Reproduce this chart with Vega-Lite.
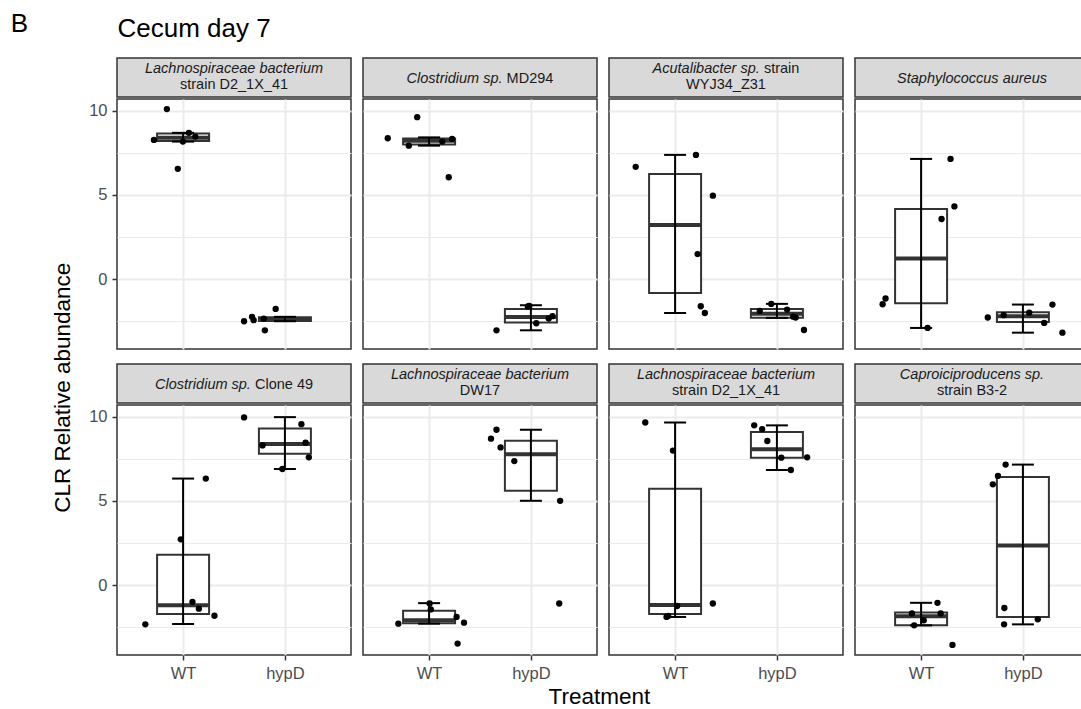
{
"$schema": "https://vega.github.io/schema/vega-lite/v6.json",
"background": "white",
"padding": {"left": 10, "top": 10, "right": 0, "bottom": 0},
"config": {
  "font": "Liberation Sans",
  "view": {"stroke": null},
  "title": {"fontWeight": "normal", "color": "#000000", "font": "Liberation Sans"},
  "axis": {"domain": false, "gridColor": "#ebebeb", "gridWidth": 2, "tickColor": "#333333", "tickSize": 5, "tickWidth": 1.5, "labelColor": "#4d4d4d", "labelFontSize": 16.5, "labelFont": "Liberation Sans", "labelPadding": 5, "minExtent": 0},
  "text": {"font": "Liberation Sans", "fontSize": 14.5, "color": "#1a1a1a"}
},
"datasets": {
  "points": [
    {"panel":1,"x":0.841,"value":10.10},{"panel":1,"x":0.714,"value":8.27},{"panel":1,"x":1.057,"value":8.69},{"panel":1,"x":0.998,"value":8.17},{"panel":1,"x":1.12,"value":8.47},{"panel":1,"x":0.948,"value":6.55},
    {"panel":1,"x":1.599,"value":-2.50},{"panel":1,"x":1.677,"value":-2.24},{"panel":1,"x":1.693,"value":-2.44},{"panel":1,"x":1.793,"value":-2.35},{"panel":1,"x":1.909,"value":-1.77},{"panel":1,"x":1.803,"value":-3.04},
    {"panel":2,"x":0.883,"value":9.62},{"panel":2,"x":0.594,"value":8.37},{"panel":2,"x":0.801,"value":7.93},{"panel":2,"x":1.130,"value":8.17},{"panel":2,"x":1.226,"value":8.33},{"panel":2,"x":1.193,"value":6.05},
    {"panel":2,"x":1.662,"value":-3.04},{"panel":2,"x":1.984,"value":-1.59},{"panel":2,"x":2.053,"value":-2.62},{"panel":2,"x":2.175,"value":-2.34},{"panel":2,"x":2.212,"value":-2.20},{"panel":2,"x":1.97,"value":-1.62},
    {"panel":3,"x":0.613,"value":6.67},{"panel":3,"x":1.205,"value":7.38},{"panel":3,"x":1.371,"value":4.96},{"panel":3,"x":1.221,"value":1.49},{"panel":3,"x":1.252,"value":-1.61},{"panel":3,"x":1.292,"value":-2.01},
    {"panel":3,"x":1.831,"value":-1.89},{"panel":3,"x":1.944,"value":-1.47},{"panel":3,"x":2.100,"value":-1.81},{"panel":3,"x":2.160,"value":-2.23},{"panel":3,"x":2.184,"value":-2.28},{"panel":3,"x":2.266,"value":-3.02},
    {"panel":4,"x":0.651,"value":-1.15},{"panel":4,"x":0.622,"value":-1.49},{"panel":4,"x":1.064,"value":-2.90},{"panel":4,"x":1.201,"value":3.57},{"panel":4,"x":1.327,"value":4.32},{"panel":4,"x":1.289,"value":7.14},
    {"panel":4,"x":1.655,"value":-2.28},{"panel":4,"x":1.811,"value":-2.14},{"panel":4,"x":2.062,"value":-1.99},{"panel":4,"x":2.209,"value":-2.60},{"panel":4,"x":2.290,"value":-1.51},{"panel":4,"x":2.388,"value":-3.18},
    {"panel":5,"x":0.629,"value":-2.33},{"panel":5,"x":1.223,"value":6.33},{"panel":5,"x":0.977,"value":2.72},{"panel":5,"x":1.092,"value":-0.99},{"panel":5,"x":1.155,"value":-1.40},{"panel":5,"x":1.308,"value":-1.82},
    {"panel":5,"x":1.599,"value":9.96},{"panel":5,"x":2.162,"value":9.56},{"panel":5,"x":1.780,"value":8.30},{"panel":5,"x":2.203,"value":8.46},{"panel":5,"x":2.235,"value":7.59},{"panel":5,"x":1.975,"value":6.90},
    {"panel":6,"x":0.698,"value":-2.29},{"panel":6,"x":1.017,"value":-1.44},{"panel":6,"x":1.005,"value":-1.09},{"panel":6,"x":1.270,"value":-1.89},{"panel":6,"x":1.343,"value":-2.23},{"panel":6,"x":1.280,"value":-3.47},
    {"panel":6,"x":1.662,"value":9.23},{"panel":6,"x":1.608,"value":8.70},{"panel":6,"x":1.702,"value":8.18},{"panel":6,"x":1.837,"value":7.37},{"panel":6,"x":2.287,"value":5.01},{"panel":6,"x":2.278,"value":-1.09},
    {"panel":7,"x":0.707,"value":9.66},{"panel":7,"x":0.979,"value":7.99},{"panel":7,"x":1.020,"value":-1.24},{"panel":7,"x":0.916,"value":-1.89},{"panel":7,"x":0.932,"value":-1.83},{"panel":7,"x":1.371,"value":-1.09},
    {"panel":7,"x":1.777,"value":9.49},{"panel":7,"x":1.855,"value":9.27},{"panel":7,"x":1.906,"value":8.56},{"panel":7,"x":2.043,"value":7.57},{"panel":7,"x":2.297,"value":7.59},{"panel":7,"x":2.137,"value":6.84},
    {"panel":8,"x":0.910,"value":-1.68},{"panel":8,"x":0.932,"value":-2.39},{"panel":8,"x":1.026,"value":-2.09},{"panel":8,"x":1.161,"value":-1.05},{"panel":8,"x":1.192,"value":-1.68},{"panel":8,"x":1.308,"value":-3.55},
    {"panel":8,"x":1.830,"value":7.16},{"panel":8,"x":1.755,"value":6.49},{"panel":8,"x":1.705,"value":5.99},{"panel":8,"x":1.818,"value":-1.36},{"panel":8,"x":1.815,"value":-2.33},{"panel":8,"x":2.146,"value":-2.03}
  ],
  "boxes": [
    {"panel":1,"x":1,"lower":8.17,"q1":8.2,"median":8.4,"q3":8.65,"upper":8.69},
    {"panel":1,"x":2,"lower":-2.5,"q1":-2.48,"median":-2.4,"q3":-2.27,"upper":-2.24},
    {"panel":2,"x":1,"lower":7.93,"q1":8.0,"median":8.22,"q3":8.36,"upper":8.42},
    {"panel":2,"x":2,"lower":-3.04,"q1":-2.58,"median":-2.25,"q3":-1.77,"upper":-1.55},
    {"panel":3,"x":1,"lower":-2.01,"q1":-0.83,"median":3.22,"q3":6.25,"upper":7.38},
    {"panel":3,"x":2,"lower":-2.3,"q1":-2.3,"median":-2.05,"q3":-1.78,"upper":-1.47},
    {"panel":4,"x":1,"lower":-2.9,"q1":-1.43,"median":1.22,"q3":4.17,"upper":7.14},
    {"panel":4,"x":2,"lower":-3.18,"q1":-2.55,"median":-2.2,"q3":-1.97,"upper":-1.51},
    {"panel":5,"x":1,"lower":-2.31,"q1":-1.72,"median":-1.2,"q3":1.8,"upper":6.33},
    {"panel":5,"x":2,"lower":6.9,"q1":7.8,"median":8.38,"q3":9.3,"upper":9.98},
    {"panel":6,"x":1,"lower":-2.29,"q1":-2.27,"median":-2.08,"q3":-1.52,"upper":-1.07},
    {"panel":6,"x":2,"lower":5.01,"q1":5.6,"median":7.78,"q3":8.57,"upper":9.23},
    {"panel":7,"x":1,"lower":-1.89,"q1":-1.72,"median":-1.18,"q3":5.72,"upper":9.66},
    {"panel":7,"x":2,"lower":6.84,"q1":7.57,"median":8.07,"q3":9.1,"upper":9.49},
    {"panel":8,"x":1,"lower":-2.39,"q1":-2.38,"median":-1.85,"q3":-1.62,"upper":-1.05},
    {"panel":8,"x":2,"lower":-2.33,"q1":-1.9,"median":2.35,"q3":6.42,"upper":7.16}
  ],
  "strips": [
    {"panel":1,"it":"Lachnospiraceae bacterium","l2":"strain D2_1X_41"},
    {"panel":2,"it":"Clostridium sp.","nm":"MD294"},
    {"panel":3,"it":"Acutalibacter sp.","nm":"strain","l2":"WYJ34_Z31"},
    {"panel":4,"it":"Staphylococcus aureus"},
    {"panel":5,"it":"Clostridium sp.","nm":"Clone 49"},
    {"panel":6,"it":"Lachnospiraceae bacterium","l2":"DW17"},
    {"panel":7,"it":"Lachnospiraceae bacterium","l2":"strain D2_1X_41"},
    {"panel":8,"it":"Caproiciproducens sp.","l2":"strain B3-2"}
  ]
},
"title": {"text": "B", "orient": "left", "angle": 0, "anchor": "end", "frame": "bounds", "align": "right", "baseline": "top", "fontSize": 26, "offset": 6.5, "dy": -5.5},
"vconcat": [{
 "title": {"text": "Cecum day 7", "anchor": "start", "frame": "group", "fontSize": 26, "baseline": "alphabetic", "offset": -6, "dx": 0.5},
 "vconcat": [{
  "title": {"text": "Treatment", "orient": "bottom", "anchor": "middle", "fontSize": 22.5, "baseline": "alphabetic", "offset": 21.5, "dx": 28.5},
  "vconcat": [{
   "title": {"text": "CLR Relative abundance", "orient": "left", "anchor": "middle", "fontSize": 22.5, "offset": 13.5, "dx": -18},
   "columns": 4,
   "spacing": {"row": 13, "column": 10},
   "concat": [
    {"spacing": 0, "vconcat": [
      {"width": 234, "height": 39, "view": {"fill": "#d9d9d9", "stroke": "#333333", "strokeWidth": 1.5},
       "data": {"name": "strips"}, "transform": [{"filter": "datum.panel == 1"}],
       "layer": [
         {"mark": {"type": "text", "fontStyle": "italic", "baseline": "alphabetic", "dy": -4.5}, "encoding": {"text": {"field": "it"}}},
         {"mark": {"type": "text", "baseline": "alphabetic", "dy": 11}, "encoding": {"text": {"field": "l2"}}}
       ]},
      {"width": 234, "height": 250, "view": {"fill": "white", "stroke": "#333333", "strokeWidth": 1.5},
       "resolve": {"axis": {"y": "independent"}},
       "layer": [
        {"data": {"name": "boxes"}, "transform": [{"filter": "datum.panel == 1"}],
         "mark": {"type": "bar", "width": 52, "fill": "white", "stroke": "#333333", "strokeWidth": 2},
         "encoding": {
          "x": {"field": "x", "type": "quantitative", "scale": {"domain": [0.4, 2.6], "nice": false, "zero": false}, "axis": {"values": [1, 2], "title": null, "grid": true, "ticks": false, "labels": false}},
          "y": {"field": "q1", "type": "quantitative", "scale": {"domain": [-4.15, 10.7], "nice": false, "zero": false}, "axis": {"values": [0, 5, 10], "title": null, "grid": true, "ticks": true, "labels": true, "orient": "left"}},
          "y2": {"field": "q3"}}},
        {"data": {"name": "boxes"}, "transform": [{"filter": "datum.panel == 1"}],
         "mark": {"type": "tick", "orient": "horizontal", "size": 52, "thickness": 4, "color": "#333333", "opacity": 1},
         "encoding": {"x": {"field": "x", "type": "quantitative"}, "y": {"field": "median", "type": "quantitative", "axis": {"values": [-2.5, 2.5, 7.5], "orient": "right", "title": null, "grid": true, "gridWidth": 1, "ticks": false, "labels": false}}}},
        {"data": {"name": "boxes"}, "transform": [{"filter": "datum.panel == 1"}],
         "mark": {"type": "rule", "color": "#000000", "strokeWidth": 2},
         "encoding": {"x": {"field": "x", "type": "quantitative"}, "y": {"field": "lower", "type": "quantitative", "axis": null}, "y2": {"field": "upper"}}},
        {"data": {"name": "boxes"}, "transform": [{"filter": "datum.panel == 1"}],
         "mark": {"type": "tick", "orient": "horizontal", "size": 22, "thickness": 2, "color": "#000000", "opacity": 1},
         "encoding": {"x": {"field": "x", "type": "quantitative"}, "y": {"field": "upper", "type": "quantitative", "axis": null}}},
        {"data": {"name": "boxes"}, "transform": [{"filter": "datum.panel == 1"}],
         "mark": {"type": "tick", "orient": "horizontal", "size": 22, "thickness": 2, "color": "#000000", "opacity": 1},
         "encoding": {"x": {"field": "x", "type": "quantitative"}, "y": {"field": "lower", "type": "quantitative", "axis": null}}},
        {"data": {"name": "points"}, "transform": [{"filter": "datum.panel == 1"}],
         "mark": {"type": "circle", "size": 40, "color": "#000000", "opacity": 1},
         "encoding": {"x": {"field": "x", "type": "quantitative"}, "y": {"field": "value", "type": "quantitative", "axis": null}}}
       ]}
    ]},
    {"spacing": 0, "vconcat": [
      {"width": 234, "height": 39, "view": {"fill": "#d9d9d9", "stroke": "#333333", "strokeWidth": 1.5},
       "data": {"name": "strips"}, "transform": [{"filter": "datum.panel == 2"}],
       "layer": [
         {"mark": {"type": "text", "fontStyle": "italic", "baseline": "alphabetic", "align": "right", "dx": 22.5, "dy": 5.5}, "encoding": {"text": {"field": "it"}}},
         {"mark": {"type": "text", "baseline": "alphabetic", "align": "left", "dx": 26.6, "dy": 5.5}, "encoding": {"text": {"field": "nm"}}}
       ]},
      {"width": 234, "height": 250, "view": {"fill": "white", "stroke": "#333333", "strokeWidth": 1.5},
       "resolve": {"axis": {"y": "independent"}},
       "layer": [
        {"data": {"name": "boxes"}, "transform": [{"filter": "datum.panel == 2"}],
         "mark": {"type": "bar", "width": 52, "fill": "white", "stroke": "#333333", "strokeWidth": 2},
         "encoding": {
          "x": {"field": "x", "type": "quantitative", "scale": {"domain": [0.4, 2.6], "nice": false, "zero": false}, "axis": {"values": [1, 2], "title": null, "grid": true, "ticks": false, "labels": false}},
          "y": {"field": "q1", "type": "quantitative", "scale": {"domain": [-4.15, 10.7], "nice": false, "zero": false}, "axis": {"values": [0, 5, 10], "title": null, "grid": true, "ticks": false, "labels": false, "orient": "left"}},
          "y2": {"field": "q3"}}},
        {"data": {"name": "boxes"}, "transform": [{"filter": "datum.panel == 2"}],
         "mark": {"type": "tick", "orient": "horizontal", "size": 52, "thickness": 4, "color": "#333333", "opacity": 1},
         "encoding": {"x": {"field": "x", "type": "quantitative"}, "y": {"field": "median", "type": "quantitative", "axis": {"values": [-2.5, 2.5, 7.5], "orient": "right", "title": null, "grid": true, "gridWidth": 1, "ticks": false, "labels": false}}}},
        {"data": {"name": "boxes"}, "transform": [{"filter": "datum.panel == 2"}],
         "mark": {"type": "rule", "color": "#000000", "strokeWidth": 2},
         "encoding": {"x": {"field": "x", "type": "quantitative"}, "y": {"field": "lower", "type": "quantitative", "axis": null}, "y2": {"field": "upper"}}},
        {"data": {"name": "boxes"}, "transform": [{"filter": "datum.panel == 2"}],
         "mark": {"type": "tick", "orient": "horizontal", "size": 22, "thickness": 2, "color": "#000000", "opacity": 1},
         "encoding": {"x": {"field": "x", "type": "quantitative"}, "y": {"field": "upper", "type": "quantitative", "axis": null}}},
        {"data": {"name": "boxes"}, "transform": [{"filter": "datum.panel == 2"}],
         "mark": {"type": "tick", "orient": "horizontal", "size": 22, "thickness": 2, "color": "#000000", "opacity": 1},
         "encoding": {"x": {"field": "x", "type": "quantitative"}, "y": {"field": "lower", "type": "quantitative", "axis": null}}},
        {"data": {"name": "points"}, "transform": [{"filter": "datum.panel == 2"}],
         "mark": {"type": "circle", "size": 40, "color": "#000000", "opacity": 1},
         "encoding": {"x": {"field": "x", "type": "quantitative"}, "y": {"field": "value", "type": "quantitative", "axis": null}}}
       ]}
    ]},
    {"spacing": 0, "vconcat": [
      {"width": 234, "height": 39, "view": {"fill": "#d9d9d9", "stroke": "#333333", "strokeWidth": 1.5},
       "data": {"name": "strips"}, "transform": [{"filter": "datum.panel == 3"}],
       "layer": [
         {"mark": {"type": "text", "fontStyle": "italic", "baseline": "alphabetic", "align": "right", "dx": 33.8, "dy": -4.5}, "encoding": {"text": {"field": "it"}}},
         {"mark": {"type": "text", "baseline": "alphabetic", "align": "left", "dx": 37.9, "dy": -4.5}, "encoding": {"text": {"field": "nm"}}},
         {"mark": {"type": "text", "baseline": "alphabetic", "dy": 11}, "encoding": {"text": {"field": "l2"}}}
       ]},
      {"width": 234, "height": 250, "view": {"fill": "white", "stroke": "#333333", "strokeWidth": 1.5},
       "resolve": {"axis": {"y": "independent"}},
       "layer": [
        {"data": {"name": "boxes"}, "transform": [{"filter": "datum.panel == 3"}],
         "mark": {"type": "bar", "width": 52, "fill": "white", "stroke": "#333333", "strokeWidth": 2},
         "encoding": {
          "x": {"field": "x", "type": "quantitative", "scale": {"domain": [0.4, 2.6], "nice": false, "zero": false}, "axis": {"values": [1, 2], "title": null, "grid": true, "ticks": false, "labels": false}},
          "y": {"field": "q1", "type": "quantitative", "scale": {"domain": [-4.15, 10.7], "nice": false, "zero": false}, "axis": {"values": [0, 5, 10], "title": null, "grid": true, "ticks": false, "labels": false, "orient": "left"}},
          "y2": {"field": "q3"}}},
        {"data": {"name": "boxes"}, "transform": [{"filter": "datum.panel == 3"}],
         "mark": {"type": "tick", "orient": "horizontal", "size": 52, "thickness": 4, "color": "#333333", "opacity": 1},
         "encoding": {"x": {"field": "x", "type": "quantitative"}, "y": {"field": "median", "type": "quantitative", "axis": {"values": [-2.5, 2.5, 7.5], "orient": "right", "title": null, "grid": true, "gridWidth": 1, "ticks": false, "labels": false}}}},
        {"data": {"name": "boxes"}, "transform": [{"filter": "datum.panel == 3"}],
         "mark": {"type": "rule", "color": "#000000", "strokeWidth": 2},
         "encoding": {"x": {"field": "x", "type": "quantitative"}, "y": {"field": "lower", "type": "quantitative", "axis": null}, "y2": {"field": "upper"}}},
        {"data": {"name": "boxes"}, "transform": [{"filter": "datum.panel == 3"}],
         "mark": {"type": "tick", "orient": "horizontal", "size": 22, "thickness": 2, "color": "#000000", "opacity": 1},
         "encoding": {"x": {"field": "x", "type": "quantitative"}, "y": {"field": "upper", "type": "quantitative", "axis": null}}},
        {"data": {"name": "boxes"}, "transform": [{"filter": "datum.panel == 3"}],
         "mark": {"type": "tick", "orient": "horizontal", "size": 22, "thickness": 2, "color": "#000000", "opacity": 1},
         "encoding": {"x": {"field": "x", "type": "quantitative"}, "y": {"field": "lower", "type": "quantitative", "axis": null}}},
        {"data": {"name": "points"}, "transform": [{"filter": "datum.panel == 3"}],
         "mark": {"type": "circle", "size": 40, "color": "#000000", "opacity": 1},
         "encoding": {"x": {"field": "x", "type": "quantitative"}, "y": {"field": "value", "type": "quantitative", "axis": null}}}
       ]}
    ]},
    {"spacing": 0, "vconcat": [
      {"width": 234, "height": 39, "view": {"fill": "#d9d9d9", "stroke": "#333333", "strokeWidth": 1.5},
       "data": {"name": "strips"}, "transform": [{"filter": "datum.panel == 4"}],
       "layer": [
         {"mark": {"type": "text", "fontStyle": "italic", "baseline": "alphabetic", "dy": 5.5}, "encoding": {"text": {"field": "it"}}}
       ]},
      {"width": 234, "height": 250, "view": {"fill": "white", "stroke": "#333333", "strokeWidth": 1.5},
       "resolve": {"axis": {"y": "independent"}},
       "layer": [
        {"data": {"name": "boxes"}, "transform": [{"filter": "datum.panel == 4"}],
         "mark": {"type": "bar", "width": 52, "fill": "white", "stroke": "#333333", "strokeWidth": 2},
         "encoding": {
          "x": {"field": "x", "type": "quantitative", "scale": {"domain": [0.4, 2.6], "nice": false, "zero": false}, "axis": {"values": [1, 2], "title": null, "grid": true, "ticks": false, "labels": false}},
          "y": {"field": "q1", "type": "quantitative", "scale": {"domain": [-4.15, 10.7], "nice": false, "zero": false}, "axis": {"values": [0, 5, 10], "title": null, "grid": true, "ticks": false, "labels": false, "orient": "left"}},
          "y2": {"field": "q3"}}},
        {"data": {"name": "boxes"}, "transform": [{"filter": "datum.panel == 4"}],
         "mark": {"type": "tick", "orient": "horizontal", "size": 52, "thickness": 4, "color": "#333333", "opacity": 1},
         "encoding": {"x": {"field": "x", "type": "quantitative"}, "y": {"field": "median", "type": "quantitative", "axis": {"values": [-2.5, 2.5, 7.5], "orient": "right", "title": null, "grid": true, "gridWidth": 1, "ticks": false, "labels": false}}}},
        {"data": {"name": "boxes"}, "transform": [{"filter": "datum.panel == 4"}],
         "mark": {"type": "rule", "color": "#000000", "strokeWidth": 2},
         "encoding": {"x": {"field": "x", "type": "quantitative"}, "y": {"field": "lower", "type": "quantitative", "axis": null}, "y2": {"field": "upper"}}},
        {"data": {"name": "boxes"}, "transform": [{"filter": "datum.panel == 4"}],
         "mark": {"type": "tick", "orient": "horizontal", "size": 22, "thickness": 2, "color": "#000000", "opacity": 1},
         "encoding": {"x": {"field": "x", "type": "quantitative"}, "y": {"field": "upper", "type": "quantitative", "axis": null}}},
        {"data": {"name": "boxes"}, "transform": [{"filter": "datum.panel == 4"}],
         "mark": {"type": "tick", "orient": "horizontal", "size": 22, "thickness": 2, "color": "#000000", "opacity": 1},
         "encoding": {"x": {"field": "x", "type": "quantitative"}, "y": {"field": "lower", "type": "quantitative", "axis": null}}},
        {"data": {"name": "points"}, "transform": [{"filter": "datum.panel == 4"}],
         "mark": {"type": "circle", "size": 40, "color": "#000000", "opacity": 1},
         "encoding": {"x": {"field": "x", "type": "quantitative"}, "y": {"field": "value", "type": "quantitative", "axis": null}}}
       ]}
    ]},
    {"spacing": 0, "vconcat": [
      {"width": 234, "height": 39, "view": {"fill": "#d9d9d9", "stroke": "#333333", "strokeWidth": 1.5},
       "data": {"name": "strips"}, "transform": [{"filter": "datum.panel == 5"}],
       "layer": [
         {"mark": {"type": "text", "fontStyle": "italic", "baseline": "alphabetic", "align": "right", "dx": 16.9, "dy": 5.5}, "encoding": {"text": {"field": "it"}}},
         {"mark": {"type": "text", "baseline": "alphabetic", "align": "left", "dx": 21, "dy": 5.5}, "encoding": {"text": {"field": "nm"}}}
       ]},
      {"width": 234, "height": 250, "view": {"fill": "white", "stroke": "#333333", "strokeWidth": 1.5},
       "resolve": {"axis": {"y": "independent"}},
       "layer": [
        {"data": {"name": "boxes"}, "transform": [{"filter": "datum.panel == 5"}],
         "mark": {"type": "bar", "width": 52, "fill": "white", "stroke": "#333333", "strokeWidth": 2},
         "encoding": {
          "x": {"field": "x", "type": "quantitative", "scale": {"domain": [0.4, 2.6], "nice": false, "zero": false}, "axis": {"values": [1, 2], "labelExpr": "datum.value == 1 ? 'WT' : 'hypD'", "title": null, "grid": true, "ticks": true, "labels": true, "labelFlush": false}},
          "y": {"field": "q1", "type": "quantitative", "scale": {"domain": [-4.15, 10.7], "nice": false, "zero": false}, "axis": {"values": [0, 5, 10], "title": null, "grid": true, "ticks": true, "labels": true, "orient": "left"}},
          "y2": {"field": "q3"}}},
        {"data": {"name": "boxes"}, "transform": [{"filter": "datum.panel == 5"}],
         "mark": {"type": "tick", "orient": "horizontal", "size": 52, "thickness": 4, "color": "#333333", "opacity": 1},
         "encoding": {"x": {"field": "x", "type": "quantitative"}, "y": {"field": "median", "type": "quantitative", "axis": {"values": [-2.5, 2.5, 7.5], "orient": "right", "title": null, "grid": true, "gridWidth": 1, "ticks": false, "labels": false}}}},
        {"data": {"name": "boxes"}, "transform": [{"filter": "datum.panel == 5"}],
         "mark": {"type": "rule", "color": "#000000", "strokeWidth": 2},
         "encoding": {"x": {"field": "x", "type": "quantitative"}, "y": {"field": "lower", "type": "quantitative", "axis": null}, "y2": {"field": "upper"}}},
        {"data": {"name": "boxes"}, "transform": [{"filter": "datum.panel == 5"}],
         "mark": {"type": "tick", "orient": "horizontal", "size": 22, "thickness": 2, "color": "#000000", "opacity": 1},
         "encoding": {"x": {"field": "x", "type": "quantitative"}, "y": {"field": "upper", "type": "quantitative", "axis": null}}},
        {"data": {"name": "boxes"}, "transform": [{"filter": "datum.panel == 5"}],
         "mark": {"type": "tick", "orient": "horizontal", "size": 22, "thickness": 2, "color": "#000000", "opacity": 1},
         "encoding": {"x": {"field": "x", "type": "quantitative"}, "y": {"field": "lower", "type": "quantitative", "axis": null}}},
        {"data": {"name": "points"}, "transform": [{"filter": "datum.panel == 5"}],
         "mark": {"type": "circle", "size": 40, "color": "#000000", "opacity": 1},
         "encoding": {"x": {"field": "x", "type": "quantitative"}, "y": {"field": "value", "type": "quantitative", "axis": null}}}
       ]}
    ]},
    {"spacing": 0, "vconcat": [
      {"width": 234, "height": 39, "view": {"fill": "#d9d9d9", "stroke": "#333333", "strokeWidth": 1.5},
       "data": {"name": "strips"}, "transform": [{"filter": "datum.panel == 6"}],
       "layer": [
         {"mark": {"type": "text", "fontStyle": "italic", "baseline": "alphabetic", "dy": -4.5}, "encoding": {"text": {"field": "it"}}},
         {"mark": {"type": "text", "baseline": "alphabetic", "dy": 11}, "encoding": {"text": {"field": "l2"}}}
       ]},
      {"width": 234, "height": 250, "view": {"fill": "white", "stroke": "#333333", "strokeWidth": 1.5},
       "resolve": {"axis": {"y": "independent"}},
       "layer": [
        {"data": {"name": "boxes"}, "transform": [{"filter": "datum.panel == 6"}],
         "mark": {"type": "bar", "width": 52, "fill": "white", "stroke": "#333333", "strokeWidth": 2},
         "encoding": {
          "x": {"field": "x", "type": "quantitative", "scale": {"domain": [0.4, 2.6], "nice": false, "zero": false}, "axis": {"values": [1, 2], "labelExpr": "datum.value == 1 ? 'WT' : 'hypD'", "title": null, "grid": true, "ticks": true, "labels": true, "labelFlush": false}},
          "y": {"field": "q1", "type": "quantitative", "scale": {"domain": [-4.15, 10.7], "nice": false, "zero": false}, "axis": {"values": [0, 5, 10], "title": null, "grid": true, "ticks": false, "labels": false, "orient": "left"}},
          "y2": {"field": "q3"}}},
        {"data": {"name": "boxes"}, "transform": [{"filter": "datum.panel == 6"}],
         "mark": {"type": "tick", "orient": "horizontal", "size": 52, "thickness": 4, "color": "#333333", "opacity": 1},
         "encoding": {"x": {"field": "x", "type": "quantitative"}, "y": {"field": "median", "type": "quantitative", "axis": {"values": [-2.5, 2.5, 7.5], "orient": "right", "title": null, "grid": true, "gridWidth": 1, "ticks": false, "labels": false}}}},
        {"data": {"name": "boxes"}, "transform": [{"filter": "datum.panel == 6"}],
         "mark": {"type": "rule", "color": "#000000", "strokeWidth": 2},
         "encoding": {"x": {"field": "x", "type": "quantitative"}, "y": {"field": "lower", "type": "quantitative", "axis": null}, "y2": {"field": "upper"}}},
        {"data": {"name": "boxes"}, "transform": [{"filter": "datum.panel == 6"}],
         "mark": {"type": "tick", "orient": "horizontal", "size": 22, "thickness": 2, "color": "#000000", "opacity": 1},
         "encoding": {"x": {"field": "x", "type": "quantitative"}, "y": {"field": "upper", "type": "quantitative", "axis": null}}},
        {"data": {"name": "boxes"}, "transform": [{"filter": "datum.panel == 6"}],
         "mark": {"type": "tick", "orient": "horizontal", "size": 22, "thickness": 2, "color": "#000000", "opacity": 1},
         "encoding": {"x": {"field": "x", "type": "quantitative"}, "y": {"field": "lower", "type": "quantitative", "axis": null}}},
        {"data": {"name": "points"}, "transform": [{"filter": "datum.panel == 6"}],
         "mark": {"type": "circle", "size": 40, "color": "#000000", "opacity": 1},
         "encoding": {"x": {"field": "x", "type": "quantitative"}, "y": {"field": "value", "type": "quantitative", "axis": null}}}
       ]}
    ]},
    {"spacing": 0, "vconcat": [
      {"width": 234, "height": 39, "view": {"fill": "#d9d9d9", "stroke": "#333333", "strokeWidth": 1.5},
       "data": {"name": "strips"}, "transform": [{"filter": "datum.panel == 7"}],
       "layer": [
         {"mark": {"type": "text", "fontStyle": "italic", "baseline": "alphabetic", "dy": -4.5}, "encoding": {"text": {"field": "it"}}},
         {"mark": {"type": "text", "baseline": "alphabetic", "dy": 11}, "encoding": {"text": {"field": "l2"}}}
       ]},
      {"width": 234, "height": 250, "view": {"fill": "white", "stroke": "#333333", "strokeWidth": 1.5},
       "resolve": {"axis": {"y": "independent"}},
       "layer": [
        {"data": {"name": "boxes"}, "transform": [{"filter": "datum.panel == 7"}],
         "mark": {"type": "bar", "width": 52, "fill": "white", "stroke": "#333333", "strokeWidth": 2},
         "encoding": {
          "x": {"field": "x", "type": "quantitative", "scale": {"domain": [0.4, 2.6], "nice": false, "zero": false}, "axis": {"values": [1, 2], "labelExpr": "datum.value == 1 ? 'WT' : 'hypD'", "title": null, "grid": true, "ticks": true, "labels": true, "labelFlush": false}},
          "y": {"field": "q1", "type": "quantitative", "scale": {"domain": [-4.15, 10.7], "nice": false, "zero": false}, "axis": {"values": [0, 5, 10], "title": null, "grid": true, "ticks": false, "labels": false, "orient": "left"}},
          "y2": {"field": "q3"}}},
        {"data": {"name": "boxes"}, "transform": [{"filter": "datum.panel == 7"}],
         "mark": {"type": "tick", "orient": "horizontal", "size": 52, "thickness": 4, "color": "#333333", "opacity": 1},
         "encoding": {"x": {"field": "x", "type": "quantitative"}, "y": {"field": "median", "type": "quantitative", "axis": {"values": [-2.5, 2.5, 7.5], "orient": "right", "title": null, "grid": true, "gridWidth": 1, "ticks": false, "labels": false}}}},
        {"data": {"name": "boxes"}, "transform": [{"filter": "datum.panel == 7"}],
         "mark": {"type": "rule", "color": "#000000", "strokeWidth": 2},
         "encoding": {"x": {"field": "x", "type": "quantitative"}, "y": {"field": "lower", "type": "quantitative", "axis": null}, "y2": {"field": "upper"}}},
        {"data": {"name": "boxes"}, "transform": [{"filter": "datum.panel == 7"}],
         "mark": {"type": "tick", "orient": "horizontal", "size": 22, "thickness": 2, "color": "#000000", "opacity": 1},
         "encoding": {"x": {"field": "x", "type": "quantitative"}, "y": {"field": "upper", "type": "quantitative", "axis": null}}},
        {"data": {"name": "boxes"}, "transform": [{"filter": "datum.panel == 7"}],
         "mark": {"type": "tick", "orient": "horizontal", "size": 22, "thickness": 2, "color": "#000000", "opacity": 1},
         "encoding": {"x": {"field": "x", "type": "quantitative"}, "y": {"field": "lower", "type": "quantitative", "axis": null}}},
        {"data": {"name": "points"}, "transform": [{"filter": "datum.panel == 7"}],
         "mark": {"type": "circle", "size": 40, "color": "#000000", "opacity": 1},
         "encoding": {"x": {"field": "x", "type": "quantitative"}, "y": {"field": "value", "type": "quantitative", "axis": null}}}
       ]}
    ]},
    {"spacing": 0, "vconcat": [
      {"width": 234, "height": 39, "view": {"fill": "#d9d9d9", "stroke": "#333333", "strokeWidth": 1.5},
       "data": {"name": "strips"}, "transform": [{"filter": "datum.panel == 8"}],
       "layer": [
         {"mark": {"type": "text", "fontStyle": "italic", "baseline": "alphabetic", "dy": -4.5}, "encoding": {"text": {"field": "it"}}},
         {"mark": {"type": "text", "baseline": "alphabetic", "dy": 11}, "encoding": {"text": {"field": "l2"}}}
       ]},
      {"width": 234, "height": 250, "view": {"fill": "white", "stroke": "#333333", "strokeWidth": 1.5},
       "resolve": {"axis": {"y": "independent"}},
       "layer": [
        {"data": {"name": "boxes"}, "transform": [{"filter": "datum.panel == 8"}],
         "mark": {"type": "bar", "width": 52, "fill": "white", "stroke": "#333333", "strokeWidth": 2},
         "encoding": {
          "x": {"field": "x", "type": "quantitative", "scale": {"domain": [0.4, 2.6], "nice": false, "zero": false}, "axis": {"values": [1, 2], "labelExpr": "datum.value == 1 ? 'WT' : 'hypD'", "title": null, "grid": true, "ticks": true, "labels": true, "labelFlush": false}},
          "y": {"field": "q1", "type": "quantitative", "scale": {"domain": [-4.15, 10.7], "nice": false, "zero": false}, "axis": {"values": [0, 5, 10], "title": null, "grid": true, "ticks": false, "labels": false, "orient": "left"}},
          "y2": {"field": "q3"}}},
        {"data": {"name": "boxes"}, "transform": [{"filter": "datum.panel == 8"}],
         "mark": {"type": "tick", "orient": "horizontal", "size": 52, "thickness": 4, "color": "#333333", "opacity": 1},
         "encoding": {"x": {"field": "x", "type": "quantitative"}, "y": {"field": "median", "type": "quantitative", "axis": {"values": [-2.5, 2.5, 7.5], "orient": "right", "title": null, "grid": true, "gridWidth": 1, "ticks": false, "labels": false}}}},
        {"data": {"name": "boxes"}, "transform": [{"filter": "datum.panel == 8"}],
         "mark": {"type": "rule", "color": "#000000", "strokeWidth": 2},
         "encoding": {"x": {"field": "x", "type": "quantitative"}, "y": {"field": "lower", "type": "quantitative", "axis": null}, "y2": {"field": "upper"}}},
        {"data": {"name": "boxes"}, "transform": [{"filter": "datum.panel == 8"}],
         "mark": {"type": "tick", "orient": "horizontal", "size": 22, "thickness": 2, "color": "#000000", "opacity": 1},
         "encoding": {"x": {"field": "x", "type": "quantitative"}, "y": {"field": "upper", "type": "quantitative", "axis": null}}},
        {"data": {"name": "boxes"}, "transform": [{"filter": "datum.panel == 8"}],
         "mark": {"type": "tick", "orient": "horizontal", "size": 22, "thickness": 2, "color": "#000000", "opacity": 1},
         "encoding": {"x": {"field": "x", "type": "quantitative"}, "y": {"field": "lower", "type": "quantitative", "axis": null}}},
        {"data": {"name": "points"}, "transform": [{"filter": "datum.panel == 8"}],
         "mark": {"type": "circle", "size": 40, "color": "#000000", "opacity": 1},
         "encoding": {"x": {"field": "x", "type": "quantitative"}, "y": {"field": "value", "type": "quantitative", "axis": null}}}
       ]}
    ]}
   ]
  }]
 }]
}]
}
